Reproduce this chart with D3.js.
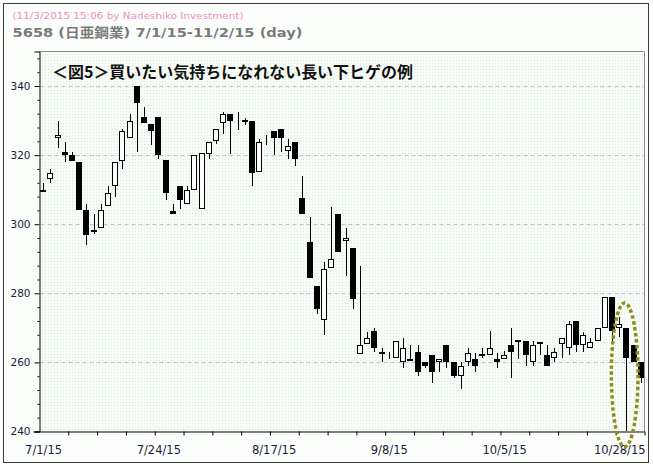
<!DOCTYPE html>
<html><head><meta charset="utf-8">
<script src="https://cdn.jsdelivr.net/npm/d3@7/dist/d3.min.js"></script>
<style>body{margin:0;background:#fff}svg{display:block}</style>
</head><body><svg id="c" width="653" height="469"></svg>
<script>
const dates = [
 "7/1/15","7/2/15","7/3/15","7/6/15","7/7/15","7/8/15","7/9/15","7/10/15","7/13/15","7/14/15","7/15/15","7/16/15","7/17/15","7/21/15","7/22/15","7/23/15","7/24/15","7/27/15","7/28/15","7/29/15","7/30/15","7/31/15",
 "8/3/15","8/4/15","8/5/15","8/6/15","8/7/15","8/10/15","8/11/15","8/12/15","8/13/15","8/14/15","8/17/15","8/18/15","8/19/15","8/20/15","8/21/15","8/24/15","8/25/15","8/26/15","8/27/15","8/28/15","8/31/15",
 "9/1/15","9/2/15","9/3/15","9/4/15","9/7/15","9/8/15","9/9/15","9/10/15","9/11/15","9/14/15","9/15/15","9/16/15","9/17/15","9/18/15","9/24/15","9/25/15","9/28/15","9/29/15","9/30/15",
 "10/1/15","10/2/15","10/5/15","10/6/15","10/7/15","10/8/15","10/9/15","10/13/15","10/14/15","10/15/15","10/16/15","10/19/15","10/20/15","10/21/15","10/22/15","10/23/15","10/26/15","10/27/15","10/28/15","10/29/15","10/30/15",
 "11/2/15"];
const open = [309.3,313.2,325,320.9,319.9,318,304.1,298.2,299,305.2,311.2,318.2,325.1,340,330.9,329,330.9,318.7,303.9,311,306,310,304.3,320.2,324.1,329.2,331.8,332.1,330.1,329.9,315,325.8,327,327.7,321.2,323.7,307.7,294.8,282.1,272.2,287.2,303,295.1,293,262.3,265.3,269,262.3,261.2,261.2,260.2,260.3,262.9,260,262.1,260.2,265,260,256.2,260.2,260.9,262.4,262.2,260.9,261.1,265,266.4,266.1,260.2,265.2,262.1,261.2,265.2,264.3,272,265,264.3,266.3,270,278.8,270.1,270,265,260];
const high = [311.8,315.9,330,323.8,320.9,318,305.8,302.9,305.8,311,317.9,327.7,331.9,340,333.8,329,330.9,318.7,305.8,311,311,319.9,320.7,323.7,327.6,332.6,331.8,332.6,330.8,329.9,324.7,325.8,327,327.7,324.8,323.7,313.9,302,282.1,289,304.9,303,298.8,293,287.9,268.9,270,264.1,262.9,266.1,267,265,265,260,262.1,260.9,265,260,260,264.1,262.8,264.1,269.1,262.8,263.4,270,266.4,266.1,266.2,266,265,264.1,267,272,272,268.9,267,270,278.8,278.8,273,270,265,260];
const low = [309.2,312,322,318,318.2,304.1,294.1,297.2,299,305.2,307.9,316,325.1,321,329.2,323,319,307.1,303.1,304.3,306,310,304.3,319,323.1,326,320.2,327.2,328.7,311.1,315,322.9,320,321,318.8,316.9,302.9,284.3,274.1,268,287.2,292.1,285.1,275.4,262.3,265.3,263.1,260.2,260.9,261.2,258.3,260.3,256,258.3,254.1,257.3,258.3,255.4,252.2,259,257.3,261.2,262.2,258.3,261.1,255.4,261,259,259,262.1,259,260.2,261.2,262.1,263.1,263.1,264.3,266.3,270,266.2,267.4,240.2,260.2,254.1];
const close = [309.9,314.7,325.7,320.1,318.2,304.1,297,297.8,304,308.9,317.9,327,329.9,335,329.2,327.1,320.1,309.1,303.1,307.1,309.8,319.9,320.7,323.7,327.6,331.8,330,331.8,329.7,314.9,323.7,325.4,325,325,322.7,318.9,302.9,284.3,275.4,287,289.9,292.1,296,278.3,264.9,267,264.3,262.9,260.9,266.1,264.1,260.9,257.3,259,257.3,260.9,260.1,256.1,258.9,262.8,259,261.9,264.1,260.2,262.1,263.1,266,262.1,265,266,259,262.9,267,271,265,267.8,266,270,278.8,269.2,271,261.2,260.2,255.4];

const yMajor = [240,260,280,300,320,340];
const yMinor = d3.range(244, 350, 4);
const yDomain = [240, 350];
const xLabelDates = ["7/1/15","7/24/15","8/17/15","9/8/15","10/5/15","10/28/15"];
const xTickEvery = 4;
const headerText = "(11/3/2015 15:06 by Nadeshiko Investment)";
const subtitleText = "5658 (日亜鋼業) 7/1/15-11/2/15 (day)";
const titleText = "＜図5＞買いたい気持ちになれない長い下ヒゲの例";
const highlightSpan = [78.9, 82.6];   // candle positions
const highlightRange = [235.6, 277.2]; // price range

const svg = d3.select("#c");
const L = 39.5, R = 644.5, T = 51.5, B = 431.5;

const x = d3.scaleLinear().domain([0, dates.length]).range([L, R]);
const y = d3.scaleLinear().domain(yDomain).range([B, T]);
const cx = i => Math.round(x(i + 0.5));

// page background + frame
svg.append("rect").attr("width",653).attr("height",469).attr("fill","#ffffff");
svg.append("rect").attr("x",3.5).attr("y",3.5).attr("width",645).attr("height",459)
  .attr("fill","#fcfefc").attr("stroke","#3a3a3a");

// plot pattern
const defs = svg.append("defs");
const pat = defs.append("pattern").attr("id","dots").attr("width",3).attr("height",3)
  .attr("patternUnits","userSpaceOnUse");
pat.append("rect").attr("width",3).attr("height",3).attr("fill","#f8fcf8");
pat.append("rect").attr("width",1).attr("height",1).attr("fill","#d9ecd9");
svg.append("rect").attr("x",L).attr("y",T).attr("width",R-L).attr("height",B-T).attr("fill","url(#dots)");

// grid
svg.append("g").selectAll("line").data(yMajor.filter(v => v > yDomain[0])).join("line")
  .attr("x1",L+1).attr("x2",R).attr("y1",d=>Math.round(y(d))+0.5).attr("y2",d=>Math.round(y(d))+0.5)
  .attr("stroke","#c4c4c4").attr("stroke-dasharray","4,3");

// plot top/right border
svg.append("path").attr("d",`M${L},${T}H${R}V${B}`).attr("fill","none").attr("stroke","#8a8a8a");

// candles
const g = svg.append("g");
dates.forEach((d,i) => {
  const c = cx(i);
  const up = close[i] >= open[i];
  const yh = Math.round(y(high[i])), yl = Math.round(y(low[i]));
  g.append("line").attr("x1",c+0.5).attr("x2",c+0.5).attr("y1",yh).attr("y2",yl)
    .attr("stroke","#000").attr("stroke-width",1);
  const top = Math.round(y(Math.max(open[i],close[i])));
  const bot = Math.round(y(Math.min(open[i],close[i])));
  g.append("rect").attr("x",c-2.5).attr("y",top+0.5).attr("width",5)
    .attr("height",Math.max(bot-top-1,0))
    .attr("fill",up ? "#ffffff" : "#000000").attr("stroke","#000").attr("stroke-width",1);
});

// axes
const yAxis = d3.axisLeft(y).tickValues(yMajor).tickSize(5).tickPadding(4).tickFormat(d3.format("d"));
const ya = svg.append("g").attr("transform",`translate(${L},0)`).call(yAxis);
ya.select(".domain").attr("stroke","#000");
ya.selectAll(".tick text").attr("font-family","DejaVu Sans, Verdana, sans-serif").attr("font-size",10.5).attr("fill","#1a1a3a");
const yMinorAxis = d3.axisLeft(y).tickValues(yMinor.filter(v=>!yMajor.includes(v))).tickSize(2).tickFormat("");
const ym = svg.append("g").attr("transform",`translate(${L},0)`).call(yMinorAxis);
ym.select(".domain").remove();

const xTicks = d3.range(xTickEvery, dates.length+1, xTickEvery);
const xAxis = d3.axisBottom(x).tickValues(xTicks).tickSize(4).tickFormat("");
const xa = svg.append("g").attr("transform",`translate(0,${B})`).call(xAxis);
xa.select(".domain").attr("d",`M${L-6},0.5H${R}`).attr("stroke","#000");

svg.append("g").selectAll("text").data(xLabelDates).join("text")
  .attr("x", d => x(dates.indexOf(d)+0.5)+0.5).attr("y", 454)
  .attr("text-anchor","middle").attr("font-family","DejaVu Sans, Verdana, sans-serif")
  .attr("font-size",11.5).attr("fill","#1a1a3a").text(d=>d);

// highlight ellipse
const ex0 = x(highlightSpan[0]+0.5), ex1 = x(highlightSpan[1]+0.5);
const ey0 = y(highlightRange[1]), ey1 = y(highlightRange[0]);
svg.append("ellipse").attr("cx",(ex0+ex1)/2).attr("cy",(ey0+ey1)/2)
  .attr("rx",(ex1-ex0)/2).attr("ry",(ey1-ey0)/2)
  .attr("fill","none").attr("stroke","#8e8e1c").attr("stroke-width",3.5)
  .attr("stroke-dasharray","3.5,2.5");

// texts
svg.append("text").attr("x",12.5).attr("y",19).attr("font-family","DejaVu Sans, Verdana, sans-serif")
  .attr("font-size",9.5).attr("fill","#f08ac6").attr("textLength",231).attr("lengthAdjust","spacingAndGlyphs")
  .text(headerText);
svg.append("text").attr("x",12.5).attr("y",37).attr("font-family","DejaVu Sans, 'Noto Sans CJK JP', sans-serif")
  .attr("font-size",13).attr("font-weight","bold").attr("fill","#7a7a7a")
  .attr("textLength",290).attr("lengthAdjust","spacingAndGlyphs").text(subtitleText);
svg.append("text").attr("x",52).attr("y",78).attr("font-family","'Noto Sans CJK JP', sans-serif")
  .attr("font-size",16).attr("font-weight","bold").attr("fill","#111")
  .attr("textLength",361).attr("lengthAdjust","spacingAndGlyphs").text(titleText);
</script></body></html>
